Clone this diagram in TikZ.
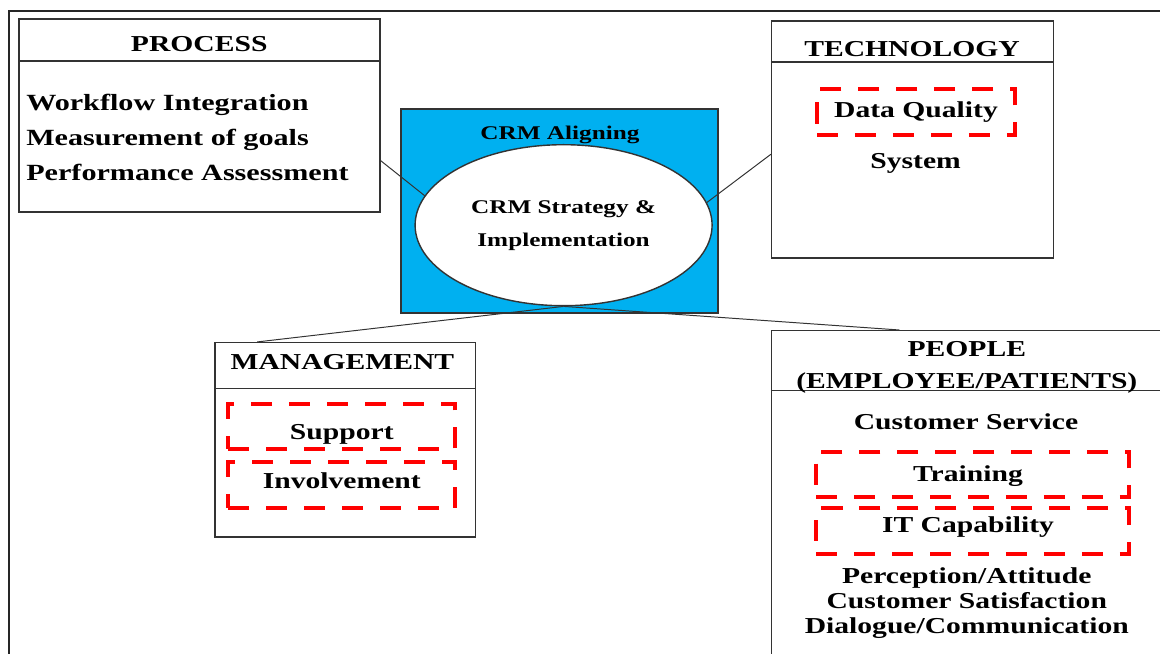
\documentclass[tikz,border=0pt]{standalone}
\usepackage{fontspec}
\setmainfont{Liberation Serif}[FakeStretch=1.3]
\usetikzlibrary{shapes.geometric}
\definecolor{crmblue}{RGB}{0,176,240}
\begin{document}
\begin{tikzpicture}
	[grp/.style={draw=black!80,line width=1pt,inner sep=0pt},
	 title/.style={font=\fontsize{16.2}{22.8}\selectfont\bfseries,align=center},
	 item/.style={font=\fontsize{16.2}{17.7}\selectfont\bfseries,align=center},
	 entry/.style={font=\fontsize{16.5}{19}\selectfont\bfseries,anchor=west,inner xsep=0pt},
	 flag/.style={draw=red,line width=2.8pt,dash pattern=on 15pt off 12pt,inner sep=0pt},
	 link/.style={draw=black!80,line width=0.7pt}]
	\clip (0,0) rectangle (29,16.325);
	\draw[black!85,line width=1.4pt] (0.225,-1) -- (0.225,16.05) -- (30,16.05);
	% process
	\node[grp,name=process,minimum width=9.025cm,minimum height=4.825cm] at (4.9875,13.4375) {};
	\draw[grp] (process.west |- 0,14.8) -- (process.east |- 0,14.8);
	\node[title,name=processtitle] at (4.98,15.22) {PROCESS};
	\node[entry,name=workflow] at (0.65,13.7) {Workflow Integration};
	\node[entry,name=goals] at (0.65,12.825) {Measurement of goals};
	\node[entry,name=assess] at (0.65,12.025) {Performance Assessment};
	% crm core
	\node[grp,name=align,fill=crmblue,minimum width=7.925cm,minimum height=5.1cm] at (13.9875,11.05) {};
	\node[font=\fontsize{13.8}{16}\selectfont\bfseries,name=aligntitle] at (14.0,12.95) {CRM Aligning};
	\node[grp,ellipse,fill=white,name=crm,minimum width=7.425cm,minimum height=4.025cm,align=center,
		font=\fontsize{13.8}{23.4}\selectfont\bfseries] at (14.09,10.695) {CRM Strategy \&\\Implementation};
	% technology
	\node[grp,name=tech,minimum width=7.04cm,minimum height=5.92cm] at (22.81,12.84) {};
	\draw[grp] (tech.west |- 0,14.775) -- (tech.east |- 0,14.775);
	\node[title,name=techtitle] at (22.8,15.1) {TECHNOLOGY};
	\node[flag,name=quality,minimum width=4.95cm,minimum height=1.15cm] at (22.9,13.525) {};
	\node[item,name=qualitytext] at (22.9,13.525) {Data Quality};
	\node[item,name=system] at (22.89,12.25) {System};
	% management
	\node[grp,name=mgmt,minimum width=6.505cm,minimum height=4.8575cm] at (8.63,5.33) {};
	\draw[grp] (mgmt.west |- 0,6.6175) -- (mgmt.east |- 0,6.6175);
	\node[title,name=mgmttitle] at (8.56,7.28) {MANAGEMENT};
	\node[flag,name=support,minimum width=5.675cm,minimum height=1.13cm] at (8.545,5.66) {};
	\node[flag,name=involve,minimum width=5.675cm,minimum height=1.15cm] at (8.545,4.19) {};
	\node[item,name=supporttext] at (8.545,5.465) {Support};
	\node[item,name=involvetext] at (8.545,4.30) {Involvement};
	% people
	\node[grp,name=people,minimum width=10.21cm,minimum height=8.5575cm] at (24.395,3.779) {};
	\draw[grp] (people.west |- 0,6.5575) -- (people.east |- 0,6.5575);
	\node[title,name=peopletitle] at (24.17,7.14) {PEOPLE\\(EMPLOYEE/PATIENTS)};
	\node[item,name=service] at (24.15,5.78) {Customer Service};
	\node[flag,name=training,minimum width=7.83cm,minimum height=1.125cm] at (24.32,4.47) {};
	\node[flag,name=itcap,minimum width=7.83cm,minimum height=1.13cm] at (24.32,3.05) {};
	\node[item,name=trainingtext] at (24.2,4.42) {Training};
	\node[item,name=itcaptext] at (24.2,3.15) {IT Capability};
	\node[item,name=attitude] at (24.17,1.25) {Perception/Attitude\\Customer Satisfaction\\Dialogue/Communication};
	\draw[link](process.-14.7)--(crm.168.8);
	\draw[link](crm.9.4)--(tech.-174.3);
	\draw[link](crm.south)--(mgmt.132.3);
	\draw[link](crm.south)--(people.114.8);
\end{tikzpicture}
\end{document}
